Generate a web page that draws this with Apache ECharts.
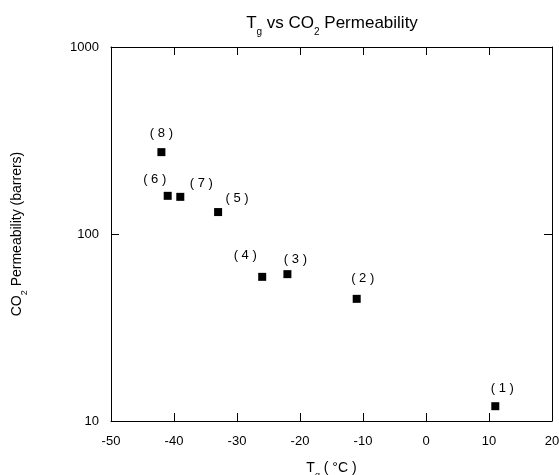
<!DOCTYPE html>
<html>
<head>
    <meta charset="utf-8">
    <title>Tg vs CO2 Permeability</title>
    <script src="https://cdn.jsdelivr.net/npm/echarts@6/dist/echarts.min.js"></script>
    <style>
        html, body { margin: 0; padding: 0; background: #fff; }
        #main { width: 559px; height: 475px; }
    </style>
</head>
<body>
<div id="main"></div>
<script type="text/javascript">
    // 数据
    var pointIds = ['1', '2', '3', '4', '5', '6', '7', '8'];
    var tgValues = [11, -11, -22, -26, -33, -41, -39, -42];          // Tg (°C)
    var permValues = [12, 45, 61, 59, 131, 160, 158, 274];            // barrers
    var xTicks = [-50, -40, -30, -20, -10, 0, 10, 20];
    var yTicks = [10, 100, 1000];

    // 标签相对于点的偏移 (样式)
    var labelShift = [[7, -18], [6, -20], [8, -15], [-17, -21], [19, -14], [-13, -16], [21, -13], [0, -19]];

    var font = 'Liberation Sans, Arial, sans-serif';

    var points = tgValues.map(function (t, i) {
        return {
            value: [t, permValues[i]],
            name: pointIds[i],
            label: { offset: labelShift[i] }
        };
    });

    var axisLineStyle = { show: true, onZero: false, lineStyle: { color: '#000', width: 1 } };
    var tickStyle = { show: true, inside: true, length: 8, lineStyle: { color: '#000' } };
    var nameRich = { sub: { fontSize: 9, fontFamily: font, color: '#000', padding: [15, 0, 0, 0] } };

    var myChart = echarts.init(document.getElementById('main'));
    var option = {
        backgroundColor: '#fff',
        animation: false,
        title: {
            text: 'T{sub|g} vs CO{sub|2} Permeability',
            left: 327,
            textAlign: 'center',
            top: 5,
            textStyle: {
                fontSize: 17,
                fontWeight: 'normal',
                fontFamily: font,
                color: '#000',
                rich: { sub: { fontSize: 10, fontFamily: font, color: '#000', padding: [17, 0, 0, 0] } }
            }
        },
        grid: { left: 111, right: 7, top: 47, bottom: 54, outerBoundsMode: 'none', containLabel: false },
        xAxis: [
            {
                type: 'value',
                position: 'bottom',
                min: xTicks[0],
                max: xTicks[xTicks.length - 1],
                interval: 10,
                name: 'T{sub|g} ( °C )',
                nameLocation: 'middle',
                nameGap: 35,
                nameTextStyle: { fontSize: 14, fontFamily: font, color: '#000', rich: nameRich },
                axisLine: axisLineStyle,
                axisTick: tickStyle,
                splitLine: { show: false },
                axisLabel: { fontSize: 13, fontFamily: font, color: '#000', margin: 14 }
            },
            {
                type: 'value',
                position: 'top',
                min: xTicks[0],
                max: xTicks[xTicks.length - 1],
                interval: 10,
                axisLine: axisLineStyle,
                axisTick: tickStyle,
                splitLine: { show: false },
                axisLabel: { show: false }
            }
        ],
        yAxis: [
            {
                type: 'log',
                logBase: 10,
                position: 'left',
                min: yTicks[0],
                max: yTicks[yTicks.length - 1],
                name: 'CO{sub|2} Permeability (barrers)',
                nameLocation: 'middle',
                nameGap: 82,
                nameTextStyle: { fontSize: 14, fontFamily: font, color: '#000', rich: nameRich },
                axisLine: axisLineStyle,
                axisTick: tickStyle,
                minorTick: { show: false },
                splitLine: { show: false },
                axisLabel: {
                    fontSize: 13, fontFamily: font, color: '#000', margin: 12,
                    formatter: function (v) { return String(v); }
                }
            },
            {
                type: 'log',
                logBase: 10,
                position: 'right',
                min: yTicks[0],
                max: yTicks[yTicks.length - 1],
                axisLine: axisLineStyle,
                axisTick: tickStyle,
                splitLine: { show: false },
                axisLabel: { show: false }
            }
        ],
        series: [
            {
                type: 'scatter',
                xAxisIndex: 0,
                yAxisIndex: 0,
                symbol: 'rect',
                symbolSize: 8,
                itemStyle: { color: '#000', opacity: 1 },
                label: {
                    show: true,
                    position: 'inside',
                    color: '#000',
                    fontSize: 13,
                    fontFamily: font,
                    formatter: function (p) { return '( ' + p.name + ' )'; }
                },
                data: points
            }
        ]
    };
    myChart.setOption(option);
</script>
</body>
</html>
